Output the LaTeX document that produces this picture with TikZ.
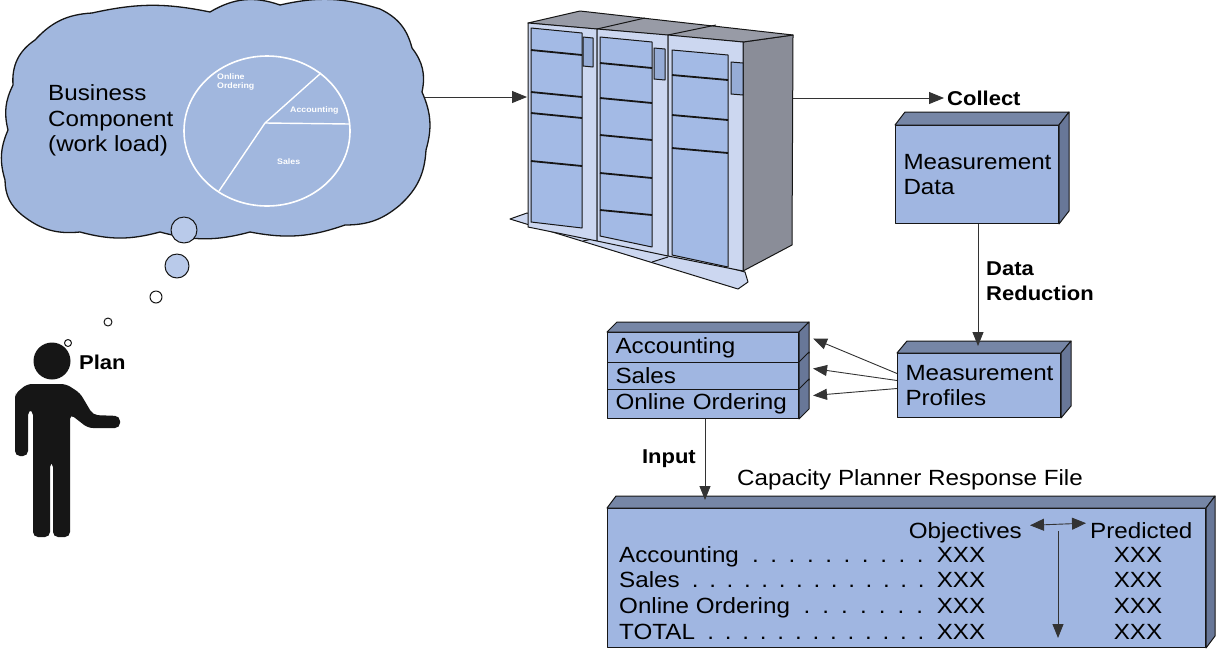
\documentclass[tikz,border=0pt]{standalone}
\usepackage{fontspec}
\setmainfont[FakeStretch=1.1]{Liberation Sans}
\usetikzlibrary{arrows.meta,calc}

\definecolor{cloudblue}{RGB}{161,183,222}
\definecolor{bubbleblue}{RGB}{185,202,234}
\definecolor{boxfront}{RGB}{160,182,225}
\definecolor{boxtop}{RGB}{118,134,166}
\definecolor{boxside}{RGB}{104,119,152}
\definecolor{door}{RGB}{163,186,229}
\definecolor{cabframe}{RGB}{204,215,240}
\definecolor{lamp}{RGB}{150,172,214}
\definecolor{cabside}{RGB}{138,141,152}
\definecolor{cabtop}{RGB}{152,155,166}
\definecolor{ink}{RGB}{22,22,22}

\newcommand\bodyfont{\fontsize{22}{25.5}\selectfont}
\newcommand\tagfont{\fontsize{20}{24}\selectfont\bfseries}
\newcommand\dotlead{\ \xleaders\hbox to 17pt{\hss.\hss}\hfill\ }
% top and right faces of a solid box node: node name, depth x, depth y
\newcommand\solidfaces[3]{%
  \filldraw[topface] (#1.north west) -- ++(#2,#3) -- ([shift={(#2,#3)}]#1.north east) -- (#1.north east) -- cycle;
  \filldraw[sideface] (#1.north east) -- ++(#2,#3) -- ([shift={(#2,#3)}]#1.south east) -- (#1.south east) -- cycle;}
\newcommand\sideonly[3]{%
  \filldraw[sideface] (#1.north east) -- ++(#2,#3) -- ([shift={(#2,#3)}]#1.south east) -- (#1.south east) -- cycle;}

\begin{document}
\begin{tikzpicture}[x=1pt,y=-1pt,
  conn/.style={draw=black!80,line width=0.9pt},
  tip/.style={-{Triangle[length=15pt,width=12pt]}},
  midtip/.style={-{Triangle[length=14pt,width=11pt]}},
  twotip/.style={{Triangle[length=14pt,width=12pt]}-{Triangle[length=14pt,width=12pt]}},
  outline/.style={draw=ink,line width=1pt,line join=round},
  box/.style={outline,fill=boxfront,rectangle,inner xsep=8pt,inner ysep=0pt,align=left,font=\bodyfont,anchor=north west},
  topface/.style={outline,fill=boxtop},
  sideface/.style={outline,fill=boxside},
  txt/.style={font=\bodyfont,inner sep=0pt,anchor=base west},
  tag/.style={font=\tagfont,inner sep=0pt,anchor=base west},
  pielbl/.style={font=\fontsize{8}{9}\selectfont\bfseries,text=white,inner sep=0pt,anchor=base west,align=left},
  bar/.style={draw=ink,line width=1.8pt},
]
\useasboundingbox (0,0) rectangle (1222,649);

% ---------- thought cloud ----------
\draw[outline,line width=1.3pt,fill=cloudblue]
  (13,85) to[bend left=30] (35,40) to[bend left=22] (92,13) to[bend left=12] (210,12)
  to[bend left=25] (280,5) to[bend left=15] (380,9) to[bend left=25] (412,48)
  to[bend left=25] (422,92) to[bend left=20] (426,150) to[bend left=22] (400,205)
  to[bend left=20] (345,225) to[bend left=15] (250,232) to[bend left=15] (160,232)
  to[bend left=15] (80,232) to[bend left=22] (22,215) to[bend left=25] (5,180)
  to[bend left=20] (8,130) to[bend left=20] (13,85) -- cycle;

% pie chart of the work load
\coordinate (hub) at (265,123);
\draw[white,line width=1.6pt] (267,131) ellipse[x radius=83,y radius=75];
\draw[white,line width=1.4pt] (hub) -- (321,73) (hub) -- (350,124) (hub) -- (219,191);
\node[pielbl] (pieOO) at (217,88) {Online\\Ordering};
\node[pielbl] (pieAc) at (290,112) {Accounting};
\node[pielbl] (pieSa) at (277,164) {Sales};

\node[txt] (bus1) at (48,100) {Business};
\node[txt] (bus2) at (48,126) {Component};
\node[txt] (bus3) at (48,151) {(work load)};

% thought bubbles
\draw[outline,fill=bubbleblue] (184,230) circle[radius=13];
\draw[outline,fill=bubbleblue] (177,266) circle[radius=12];
\draw[outline,fill=white] (156,297) circle[radius=6];
\draw[outline,fill=white] (108,322) circle[radius=4];
\draw[outline,fill=white] (68,343) circle[radius=3.5];

% ---------- planner ----------
\fill[ink] (52,361) circle[radius=18.5];
\fill[ink,rounded corners=5pt] (15,398) -- (15,456) -- (28,456) -- (28,410) -- (33,410)
  -- (33,537) -- (50,537) -- (50,462) -- (53,462) -- (53,537) -- (70,537) -- (70,414)
  -- (88,428) -- (120,428) -- (120,416) -- (93,415) -- (80,393) -- (66,384) -- (27,384)
  -- (15,394) -- cycle;
\node[tag] (plan) at (79,369) {Plan};

% ---------- processor cabinets ----------
\filldraw[outline,fill=cabframe] (527,213) -- (510,219) -- (738,289) -- (748,282) -- (745,272) -- cycle;
\draw[outline] (583,241) -- (597,238) (652,262) -- (668,257);
\filldraw[outline,fill=cabside] (743,42) -- (793,35) -- (792,245) -- (743,271) -- cycle;
\filldraw[outline,fill=cabtop] (528,23) -- (580,11) -- (793,35) -- (743,42) -- cycle;
\draw[outline] (597,29) -- (645,18) (668,35) -- (716,25);
\filldraw[outline,fill=cabframe] (528,23) -- (597,29) -- (597,241) -- (528,227) -- cycle;
\filldraw[outline,fill=cabframe] (597,29) -- (668,35) -- (668,256) -- (597,241) -- cycle;
\filldraw[outline,fill=cabframe] (668,35) -- (743,42) -- (743,271) -- (668,256) -- cycle;
\filldraw[outline,fill=door] (531,28) -- (582,33) -- (582,228) -- (531,222) -- cycle;
\filldraw[outline,fill=door] (600,37) -- (652,42) -- (652,247) -- (600,236) -- cycle;
\filldraw[outline,fill=door] (672,50) -- (728,55) -- (728,267) -- (672,255) -- cycle;
\foreach \y in {50,92,113,161} \draw[bar] (531,\y) -- (582,\y+5);
\foreach \y in {63,98,135,173,210} \draw[bar] (600,\y) -- (652,\y+5);
\foreach \y in {75,115,148} \draw[bar] (672,\y) -- (728,\y+5);
\filldraw[outline,fill=lamp] (583,37) -- (593,38) -- (593,67) -- (583,66) -- cycle;
\filldraw[outline,fill=lamp] (654,48) -- (665,49) -- (665,80) -- (654,79) -- cycle;
\filldraw[outline,fill=lamp] (731,62) -- (743,63) -- (743,95) -- (731,94) -- cycle;

\coordinate (cloudE) at (425,97);
\coordinate (srvW) at (527,97);
\coordinate (srvE) at (793,98);
\draw[conn,tip] (cloudE) -- (srvW);

% ---------- measurement chain ----------
\node[tag,anchor=west,inner xsep=3pt] (collect) at (944,98) {Collect};
\draw[conn,tip] (srvE) -- (collect.west);

\node[box,minimum width=163pt,minimum height=98pt,text width=147pt] (md) at (895,125) {Measurement\\Data};
\solidfaces{md}{10}{-13}

\node[box,minimum width=163pt,minimum height=64pt,text width=147pt] (mp) at (897,353) {Measurement\\Profiles};
\solidfaces{mp}{10}{-12}

\coordinate (mpIn) at (978,346);
\draw[conn,midtip] (md.south -| mpIn) -- (mpIn);
\node[tag] (dr1) at (986,275) {Data};
\node[tag] (dr2) at (986,300) {Reduction};

% business components
\node[box,minimum width=191pt,minimum height=30pt,text width=175pt] (acc) at (607,332) {Accounting};
\node[box,minimum width=191pt,minimum height=27pt,text width=175pt] (sal) at (607,362) {Sales};
\node[box,minimum width=191pt,minimum height=29pt,text width=175pt] (onl) at (607,389) {Online Ordering};
\solidfaces{acc}{10}{-10}
\sideonly{sal}{10}{-10}
\sideonly{onl}{10}{-10}

\draw[conn,midtip] ($(mp.west)+(0,-12)$) -- ($(acc.east)+(14,-9)$);
\draw[conn,midtip] ($(mp.west)+(0,-5)$) -- ($(sal.east)+(14,-7.5)$);
\draw[conn,midtip] ($(mp.west)+(0,3)$) -- ($(onl.east)+(14,-8.5)$);

% ---------- response file ----------
\node[font=\bodyfont,inner sep=0pt,anchor=base] (title) at (910,485) {Capacity Planner Response File};
\node[box,minimum width=598pt,minimum height=139pt] (resp) at (607,508) {};
\solidfaces{resp}{9}{-12}

\coordinate (respIn) at (705,500);
\node[tag,anchor=base east] (input) at (696,463) {Input};
\draw[conn,midtip] (onl.south -| respIn) -- (respIn);

\node[font=\bodyfont,inner sep=0pt,anchor=base east] (obj) at (1022,538) {Objectives};
\node[font=\bodyfont,inner sep=0pt,anchor=base west] (pred) at (1090,538) {Predicted};
\draw[conn,twotip] ($(obj.east)+(8,-7)$) -- ($(pred.west)+(-4,-7)$);
\coordinate (cmpTop) at (1058,531);
\coordinate (cmpEnd) at (1058,638);
\draw[conn,midtip] (cmpTop) -- (cmpEnd);

\node[txt] (row1) at (619,562) {\makebox[366pt][l]{Accounting\dotlead XXX}};
\node[txt] (row2) at (619,587) {\makebox[366pt][l]{Sales\dotlead XXX}};
\node[txt] (row3) at (619,613) {\makebox[366pt][l]{Online Ordering\dotlead XXX}};
\node[txt] (row4) at (619,639) {\makebox[366pt][l]{TOTAL\dotlead XXX}};
\node[font=\bodyfont,inner sep=0pt,anchor=base] (p1) at (1138,562) {XXX};
\node[font=\bodyfont,inner sep=0pt,anchor=base] (p2) at (1138,587) {XXX};
\node[font=\bodyfont,inner sep=0pt,anchor=base] (p3) at (1138,613) {XXX};
\node[font=\bodyfont,inner sep=0pt,anchor=base] (p4) at (1138,639) {XXX};
\end{tikzpicture}
\end{document}
